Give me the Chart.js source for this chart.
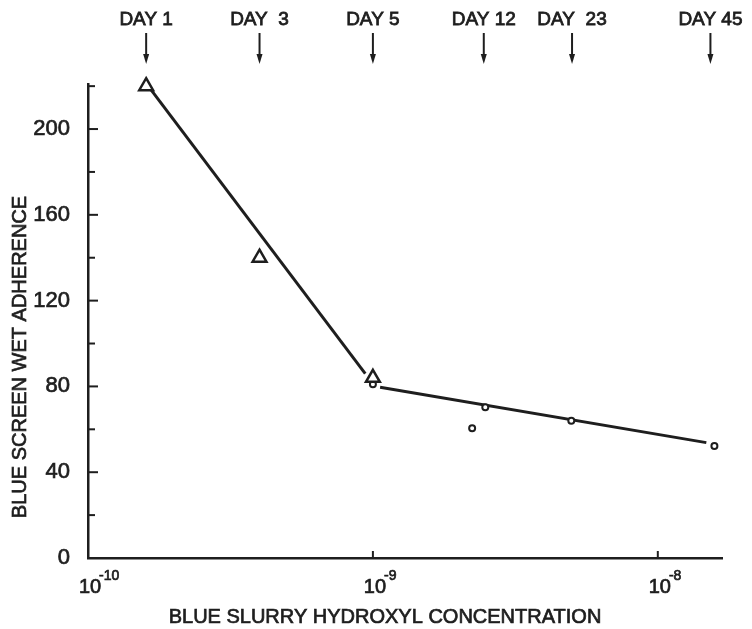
<!DOCTYPE html>
<html>
<head>
<meta charset="utf-8">
<title>Blue screen wet adherence</title>
<script src="https://cdn.jsdelivr.net/npm/chart.js@4.4.0/dist/chart.umd.min.js"></script>
<style>
  body { margin: 0; background: #fff; }
  canvas { display: block; }
</style>
</head>
<body>
<canvas id="grafico" width="752" height="629"></canvas>
<script>
//datos
var triangulosX = [1.6e-10, 4.0e-10, 1.0e-9]
var triangulosY = [220, 140, 84]
var circulosX = [1.0e-9, 2.23e-9, 2.48e-9, 4.97e-9, 1.58e-8]
var circulosY = [81, 60.5, 70.3, 64, 52.2]
//rectas de ajuste (dos tramos)
var tramo1X = [1.65e-10, 9.4e-10]
var tramo1Y = [219, 86]
var tramo2X = [1.06e-9, 1.48e-8]
var tramo2Y = [79.6, 53.8]
//marcas de dias arriba del grafico
var diasTexto = ['DAY 1', 'DAY  3', 'DAY 5', 'DAY 12', 'DAY  23', 'DAY 45']
var diasX = [1.6e-10, 4.0e-10, 1.0e-9, 2.45e-9, 5.0e-9, 1.53e-8]
//ticks
var ticksX = [1e-10, 1e-9, 1e-8]
var ticksY = [0, 20, 40, 60, 80, 100, 120, 140, 160, 180, 200, 220]
var etiquetasY = [0, 40, 80, 120, 160, 200]

const tinta = '#1e1e1e'
const fuente = '"Liberation Sans", Arial, sans-serif'

const juntar = (xs, ys) => xs.map((x, i) => ({ x: x, y: ys[i] }))

//texto con un trazo fino para que se vea como el rotulado original
const texto = (ctx, t, x, y) => {
    ctx.fillText(t, x, y)
    ctx.strokeText(t, x, y)
}

//dibuja ticks hacia adentro, etiquetas 10^n, titulos y flechas de dias
const dibujoExtra = {
    id: 'dibujoExtra',
    afterDraw(chart) {
        const ctx = chart.ctx
        const sx = chart.scales.x
        const sy = chart.scales.y
        const area = chart.chartArea
        ctx.save()
        ctx.strokeStyle = tinta
        ctx.fillStyle = tinta
        ctx.lineWidth = 2

        sy.ticks.forEach(t => {
            if (t.value === 0) return
            const py = sy.getPixelForValue(t.value)
            const largo = etiquetasY.includes(t.value) ? 10 : 7
            ctx.beginPath()
            ctx.moveTo(area.left, py)
            ctx.lineTo(area.left + largo, py)
            ctx.stroke()
        })

        sx.ticks.forEach((t, i) => {
            const px = sx.getPixelForValue(t.value)
            ctx.lineWidth = 2
            if (i > 0) {
                ctx.beginPath()
                ctx.moveTo(px, area.bottom)
                ctx.lineTo(px, area.bottom - 7)
                ctx.stroke()
            }
            const exp = Math.round(Math.log10(t.value))
            ctx.lineWidth = 0.7
            ctx.font = '20px ' + fuente
            ctx.textAlign = 'center'
            ctx.textBaseline = 'alphabetic'
            texto(ctx, '10', px + 2, 593)
            const w = ctx.measureText('10').width
            ctx.font = '14px ' + fuente
            ctx.textAlign = 'left'
            texto(ctx, '-' + Math.abs(exp), px + 2 + w / 2 - 2, 580)
        })

        //titulos de ejes
        ctx.lineWidth = 0.7
        ctx.font = '20px ' + fuente
        ctx.textAlign = 'center'
        ctx.textBaseline = 'middle'
        texto(ctx, 'BLUE SLURRY HYDROXYL CONCENTRATION', 385, 617)
        ctx.save()
        ctx.translate(20, 357)
        ctx.rotate(-Math.PI / 2)
        texto(ctx, 'BLUE SCREEN WET ADHERENCE', 0, 0)
        ctx.restore()

        //dias con flechas
        diasX.forEach((d, i) => {
            const px = sx.getPixelForValue(d)
            ctx.lineWidth = 0.8
            ctx.font = '19px ' + fuente
            ctx.textAlign = 'center'
            ctx.textBaseline = 'middle'
            texto(ctx, diasTexto[i], px, 20)
            ctx.lineWidth = 2
            ctx.beginPath()
            ctx.moveTo(px, 33)
            ctx.lineTo(px, 56)
            ctx.stroke()
            ctx.beginPath()
            ctx.moveTo(px - 3, 54)
            ctx.lineTo(px + 3, 54)
            ctx.lineTo(px, 64)
            ctx.closePath()
            ctx.fill()
        })
        ctx.restore()
    }
}

const ctx = document.getElementById('grafico').getContext('2d')
const grafico = new Chart(ctx, {
    type: 'scatter',
    data: {
        datasets: [{
            label: 'triangulos',
            data: juntar(triangulosX, triangulosY),
            pointStyle: 'triangle',
            pointRadius: 8,
            borderWidth: 2.5,
            borderColor: tinta,
            backgroundColor: '#fff',
            clip: false
        }, {
            label: 'circulos',
            data: juntar(circulosX, circulosY),
            pointStyle: 'circle',
            pointRadius: 3,
            borderWidth: 2,
            borderColor: tinta,
            backgroundColor: '#fff',
            clip: false
        }, {
            label: 'tramo 1',
            data: juntar(tramo1X, tramo1Y),
            showLine: true,
            pointRadius: 0,
            borderWidth: 3,
            borderColor: tinta,
            clip: false
        }, {
            label: 'tramo 2',
            data: juntar(tramo2X, tramo2Y),
            showLine: true,
            pointRadius: 0,
            borderWidth: 3,
            borderColor: tinta,
            clip: false
        }]
    },
    options: {
        responsive: false,
        animation: false,
        layout: { padding: { top: 84, right: 30, left: 0, bottom: 0 } },
        plugins: {
            legend: { display: false },
            tooltip: { enabled: false }
        },
        scales: {
            x: {
                type: 'logarithmic',
                min: 1e-10,
                max: 1.68e-8,
                afterBuildTicks: s => { s.ticks = ticksX.map(v => ({ value: v })) },
                afterFit: s => { s.height = 71 },
                grid: { display: false },
                border: { display: true, color: tinta, width: 2.5 },
                ticks: { display: false }
            },
            y: {
                type: 'linear',
                min: 0,
                max: 221,
                afterBuildTicks: s => { s.ticks = ticksY.map(v => ({ value: v })) },
                afterFit: s => { s.width = 88 },
                grid: { display: false },
                border: { display: true, color: tinta, width: 2.5 },
                ticks: {
                    padding: 10,
                    color: tinta,
                    textStrokeColor: tinta,
                    textStrokeWidth: 0.7,
                    font: { family: fuente, size: 22 },
                    callback: v => etiquetasY.includes(v) ? String(v) : ''
                }
            }
        }
    },
    plugins: [dibujoExtra]
})
</script>
</body>
</html>
